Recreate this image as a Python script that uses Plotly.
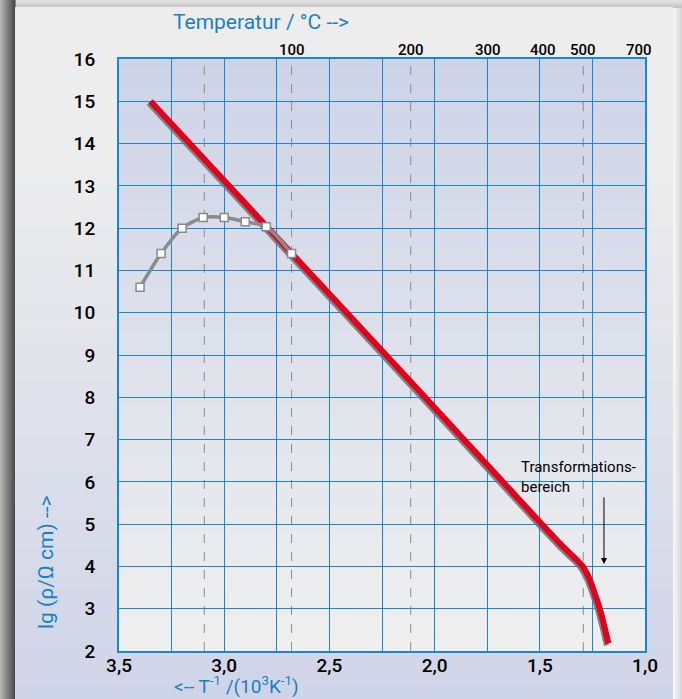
import plotly.graph_objects as go

# --- data -------------------------------------------------------------
# glass: straight Arrhenius branch, bending down in the transformation range
red_x = [3.35, 2.80, 2.11, 1.50, 1.40, 1.34, 1.30, 1.27, 1.245, 1.215, 1.193, 1.174]
red_y = [15.0, 12.05, 8.35, 5.05, 4.52, 4.23, 4.03, 3.77, 3.45, 3.00, 2.58, 2.18]

# measured points (surface conduction regime at low temperature)
meas_x = [3.40, 3.30, 3.20, 3.10, 3.00, 2.90, 2.80, 2.68]
meas_y = [10.6, 11.4, 12.0, 12.25, 12.25, 12.15, 12.03, 11.4]

x_ticks = [3.5, 3.25, 3.0, 2.75, 2.5, 2.25, 2.0, 1.75, 1.5, 1.25, 1.0]
x_ticktext = ["3,5", "", "3,0", "", "2,5", "", "2,0", "", "1,5", "", "1,0"]

temp_labels = [100, 200, 300, 400, 500, 700]      # °C, top scale
temp_dashed = [50, 100, 200, 500]                 # °C, dashed reference lines

# --- geometry / style -------------------------------------------------
W, H = 682, 699
ML, MR, MT, MB = 117, 37, 59, 46
PW, PH = W - ML - MR, H - MT - MB
OFF = 2  # whole-pixel offset of the drop shadow under the red curve

BLUE = "#1b7fc4"
GRID = "#1a86d4"
FONT = "Roboto, Liberation Sans, sans-serif"


def px(x):
    return (x - ML) / PW


def py(y):
    return (MT + PH - y) / PH


def inv_k(tc):
    return 1000.0 / (tc + 273.15)


def mix(c1, c2, t):
    a = [int(c1[i:i + 2], 16) for i in (1, 3, 5)]
    b = [int(c2[i:i + 2], 16) for i in (1, 3, 5)]
    return "rgb(%d,%d,%d)" % tuple(round(a[k] + (b[k] - a[k]) * t) for k in range(3))


shapes = []


def band_v(x0, x1, y0, y1, c_top, c_bot, n, t0=0.0):
    """vertical gradient made of thin horizontal bands (pixel coords)"""
    h = (y1 - y0) / n
    for i in range(n):
        t = i / (n - 1)
        t = 0 if t < t0 else (t - t0) / (1 - t0)
        shapes.append(dict(type="rect", xref="paper", yref="paper", layer="below",
                           x0=px(x0), x1=px(x1), y0=py(y0 + i * h), y1=py(y0 + (i + 1) * h + 0.6),
                           fillcolor=mix(c_top, c_bot, t), line=dict(width=0)))


def band_h(x0, x1, y0, y1, c_l, c_r, n):
    w = (x1 - x0) / n
    for i in range(n):
        t = i / (n - 1)
        shapes.append(dict(type="rect", xref="paper", yref="paper", layer="below",
                           x0=px(x0 + i * w), x1=px(x0 + (i + 1) * w + 0.6), y0=py(y0), y1=py(y1),
                           fillcolor=mix(c_l, c_r, t), line=dict(width=0)))


# frame shadows around the card
band_v(0, W, 0, 8, "#e2e2e2", "#c4c4c4", 6)
band_h(0, 15, 0, H, "#b4b4b4", "#4c4c4c", 12)
band_h(673, W, 8, H, "#f6f6f6", "#d8d8d8", 5)
# card background
band_v(15, 673, 7, H, "#ededed", "#cfd5e8", 50, t0=0.2)
# plot area background
band_v(119, 645, 59, 651, "#ced4e8", "#efefef", 50)

# dashed verticals at fixed temperatures
for t in temp_dashed:
    shapes.append(dict(type="line", xref="x2", yref="y2", layer="below",
                       x0=inv_k(t), x1=inv_k(t), y0=2, y1=16,
                       line=dict(color="#8c8c8c", width=1, dash="dash")))

fig = go.Figure()

# drop shadow of the red curve (own subplot, shifted a little down-left)
fig.add_trace(go.Scatter(x=red_x, y=red_y, mode="lines", xaxis="x", yaxis="y",
                         line=dict(color="#808080", width=5, shape="spline", smoothing=0.6),
                         hoverinfo="skip", showlegend=False))

fig.add_trace(go.Scatter(x=red_x, y=red_y, mode="lines", xaxis="x2", yaxis="y2",
                         line=dict(color="#e2001a", width=6, shape="spline", smoothing=0.6),
                         showlegend=False))

fig.add_trace(go.Scatter(x=meas_x, y=meas_y, mode="lines+markers", xaxis="x2", yaxis="y2",
                         line=dict(color="#8a8a8a", width=3.5, shape="spline", smoothing=0.8),
                         marker=dict(symbol="square", size=8, color="white",
                                     line=dict(color="#8a8a8a", width=1.5)),
                         showlegend=False))

xr = [3.5, 1.0]
yr = [2, 16]
dx, dy = OFF / PW, OFF / PH

hidden = dict(showgrid=False, zeroline=False, showticklabels=False, showline=False, ticks="")
tick_font = dict(size=19, color="black", family=FONT, weight=500)

fig.update_layout(
    width=W, height=H,
    margin=dict(l=ML, r=MR, t=MT, b=MB, pad=0),
    paper_bgcolor="#d4d4d4",
    plot_bgcolor="rgba(0,0,0,0)",
    shapes=shapes,
    font=dict(family=FONT, color="black"),
    xaxis=dict(domain=[0, 1 - dx], range=xr, anchor="y", **hidden),
    yaxis=dict(domain=[0, 1 - dy], range=yr, anchor="x", **hidden),
    xaxis2=dict(domain=[dx, 1], range=xr, anchor="y2",
                tickvals=x_ticks, ticktext=x_ticktext, ticks="",
                showgrid=True, gridcolor=GRID, gridwidth=1, zeroline=False,
                showline=True, linecolor=GRID, linewidth=2, mirror=True,
                ticklabelstandoff=-4, tickfont=tick_font),
    yaxis2=dict(domain=[dy, 1], range=yr, anchor="x2", dtick=1, ticks="",
                showgrid=True, gridcolor=GRID, gridwidth=1, zeroline=False,
                showline=True, linecolor=GRID, linewidth=2, mirror=True,
                ticklabelstandoff=18, tickfont=tick_font),
)

# temperature scale along the top edge
for t in temp_labels:
    fig.add_annotation(text=str(t), xref="x2", yref="paper", x=inv_k(t), y=1.0,
                       xanchor="center", yanchor="bottom", yshift=-2, showarrow=False,
                       font=dict(size=15, color="black", family=FONT, weight=500))

ann_font = dict(family=FONT, color=BLUE, size=21)
fig.add_annotation(text="Temperatur / °C -->", xref="paper", yref="paper",
                   x=px(171), y=py(22), xanchor="left", yanchor="middle",
                   showarrow=False, font=ann_font)
fig.add_annotation(text="<-- T<sup>-1</sup> /(10<sup>3</sup>K<sup>-1</sup>)",
                   xref="paper", yref="paper", x=px(172), y=py(685),
                   xanchor="left", yanchor="middle", showarrow=False,
                   font=dict(family=FONT, color=BLUE, size=19))
fig.add_annotation(text="lg (ρ/Ω cm) -->", xref="paper", yref="paper",
                   x=px(46), y=py(562), xanchor="center", yanchor="middle",
                   textangle=-90, showarrow=False, font=ann_font)

fig.add_annotation(text="Transformations-<br>bereich", xref="x2", yref="y2",
                   x=1.60, y=6.12, xanchor="left", yanchor="middle", align="left",
                   showarrow=False, font=dict(family=FONT, color="black", size=15))
fig.add_annotation(text="", xref="x2", yref="y2", axref="x2", ayref="y2",
                   x=1.195, y=4.06, ax=1.195, ay=5.67,
                   showarrow=True, arrowhead=2, arrowsize=1.2, arrowwidth=1,
                   arrowcolor="black")

fig.write_html("out.html")
